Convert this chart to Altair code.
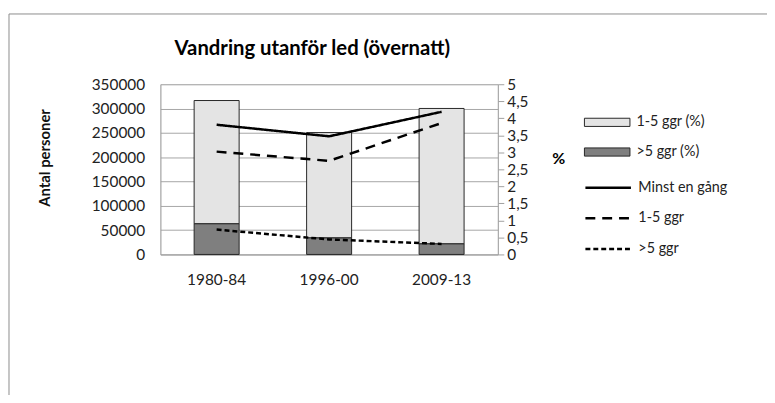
import altair as alt
import pandas as pd

periods = ["1980-84", "1996-00", "2009-13"]

bar_series = ["1-5 ggr (%)", ">5 ggr (%)"]
bar_1_5 = [253500, 216600, 278500]
bar_over5 = [63000, 34000, 21700]

line_series = ["Minst en gång", "1-5 ggr", ">5 ggr"]
line_minst = [3.81, 3.47, 4.19]
line_1_5 = [3.02, 2.75, 3.86]
line_over5 = [0.73, 0.44, 0.31]

left_ticks = [0, 50000, 100000, 150000, 200000, 250000, 300000, 350000]
right_ticks = [0, 0.5, 1, 1.5, 2, 2.5, 3, 3.5, 4, 4.5, 5]

bars_df = pd.DataFrame({
    "period": periods * 2,
    "serie": [bar_series[0]] * 3 + [bar_series[1]] * 3,
    "value": bar_1_5 + bar_over5,
    "ord": [2] * 3 + [1] * 3,
})
lines_df = pd.DataFrame({
    "period": periods * 3,
    "serie": [s for s in line_series for _ in periods],
    "pct": line_minst + line_1_5 + line_over5,
})

FONT = "Lato"
GRAY = "#a0a0a0"

x_enc = alt.X(
    "period:N", sort=periods, title=None,
    scale=alt.Scale(paddingInner=0.6, paddingOuter=0.3),
    axis=alt.Axis(labelAngle=0, ticks=False, domainColor=GRAY, labelPadding=18,
                  labelFontSize=15.5, labelColor="#222222", labelFont=FONT,
                  labelBaseline="top"),
)

bars = alt.Chart(bars_df).mark_bar(stroke="#262626", strokeWidth=1).encode(
    x=x_enc,
    y=alt.Y(
        "value:Q", stack="zero", scale=alt.Scale(domain=[0, 350000], nice=False),
        axis=alt.Axis(values=left_ticks, title="Antal personer", grid=True, gridColor="#a6a6a6",
                      ticks=False, domainColor=GRAY, labelPadding=16, format="d",
                      labelFontSize=15.5, labelFont=FONT, labelColor="#222222",
                      titleX=-117, titleY=74, titleAngle=-90, titleAlign="center",
                      titleBaseline="middle", titleFontSize=15, titleFontWeight="bold",
                      titleFont=FONT, titleColor="#111111"),
    ),
    fill=alt.Fill(
        "serie:N",
        scale=alt.Scale(domain=bar_series, range=["#e4e4e4", "#7f7f7f"]),
        legend=alt.Legend(title=None, orient="none", legendX=428, legendY=15,
                          symbolType="M-1,-0.18H1V0.18H-1Z", symbolSize=2116,
                          symbolStrokeColor="#262626", symbolStrokeWidth=1,
                          symbolOpacity=1,
                          labelFont=FONT, labelFontSize=14.5, labelColor="#222222",
                          labelOffset=6, rowPadding=0, padding=0),
    ),
    order=alt.Order("ord:Q"),
)

lines = alt.Chart(lines_df).mark_line(color="black", strokeWidth=2.5).encode(
    x=x_enc,
    y=alt.Y(
        "pct:Q", scale=alt.Scale(domain=[0, 5], nice=False),
        axis=alt.Axis(orient="right", values=right_ticks,
                      labelExpr="replace(toString(datum.value), '.', ',')",
                      grid=False, title="%", titleAngle=0, titleX=61, titleY=75,
                      titleAlign="center", titleBaseline="middle",
                      titleFontSize=16, titleFontWeight="bold", titleFont=FONT,
                      tickSize=6, tickColor=GRAY, domainColor=GRAY, labelPadding=3,
                      labelFontSize=15.5, labelFont=FONT, labelColor="#222222"),
    ),
    strokeDash=alt.StrokeDash(
        "serie:N",
        scale=alt.Scale(domain=line_series, range=[[1, 0], [10, 7], [5, 3]]),
        legend=alt.Legend(title=None, orient="none", legendX=428, legendY=80,
                          symbolType="stroke", symbolSize=2116,
                          symbolStrokeColor="black", symbolStrokeWidth=2.5,
                          labelFont=FONT, labelFontSize=14.5, labelColor="#222222",
                          labelOffset=6, rowPadding=-7, padding=0),
    ),
)

frame_df = pd.DataFrame({"k": [0]})
frame_left = alt.Chart(frame_df).mark_rule(color="#8c8c8c", strokeWidth=1).encode(
    x=alt.value(-153), y=alt.value(-71), y2=alt.value(330)
)
frame_top = alt.Chart(frame_df).mark_rule(color="#8c8c8c", strokeWidth=1).encode(
    x=alt.value(-153), x2=alt.value(620), y=alt.value(-71)
)

chart = alt.layer(bars, lines, frame_left, frame_top).resolve_scale(
    y="independent", fill="independent", strokeDash="independent"
).properties(
    width=341, height=172,
    autosize=alt.AutoSizeParams(type="none"),
    padding={"left": 154, "top": 75, "right": 272, "bottom": 140},
    title=alt.Title("Vandring utanför led (övernatt)", font=FONT, fontSize=20.5,
                    fontWeight="bold", color="#000000", anchor="middle",
                    frame="group", dx=-17, dy=62, offset=0, baseline="alphabetic"),
).configure_view(stroke=None).configure(background="white")

chart.save("out.html", embed_options={"renderer": "svg", "actions": False})
